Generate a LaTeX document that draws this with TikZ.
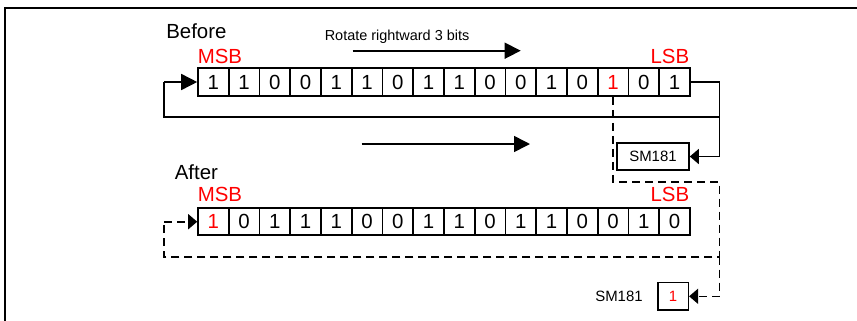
\documentclass[tikz,border=0pt]{standalone}
\usepackage{fontspec}
\setmainfont{Liberation Sans}
\usetikzlibrary{arrows.meta,calc}
\begin{document}
\begin{tikzpicture}[x=1bp,y=-1bp,line width=1.6bp,
  cell/.style={draw,minimum width=30.75bp,minimum height=28bp,inner sep=0pt,font=\fontsize{20.5}{24}\selectfont},
  lbl/.style={inner sep=0pt,font=\fontsize{20.5}{24}\selectfont},
  small text/.style={inner sep=0pt,font=\fontsize{15}{18}\selectfont},
  big/.style={-{Triangle[length=16bp,width=16bp]}},
  smallhead/.style={-{Triangle[length=9bp,width=15bp]}},
  dsh/.style={dash pattern=on 8bp off 5bp}]
\useasboundingbox (0,0) rectangle (857,320);
% frame
\draw[line width=2bp] (5,322) -- (5,7.8) -- (860,7.8);
% top register
\foreach \b [count=\i from 0] in {1,1,0,0,1,1,0,1,1,0,0,1,0,{\textcolor{red}{1}},0,1}
  \node[cell] (t\i) at ({198+30.75*(\i+0.5)},82) {\b};
% bottom register
\foreach \b [count=\i from 0] in {{\textcolor{red}{1}},0,1,1,1,0,0,1,1,0,1,1,0,0,1,0}
  \node[cell,minimum height=27bp] (b\i) at ({198+30.75*(\i+0.5)},221.7) {\b};
% labels
\node[lbl,anchor=base west] (before) at (165.5,38.3) {Before};
\node[lbl,anchor=base west,text=red] (msb1) at (197,63) {MSB};
\node[lbl,anchor=base east,text=red] (lsb1) at (690,63) {LSB};
\node[anchor=base west,inner sep=0pt,font=\fontsize{14.5}{17}\selectfont] (rot) at (324,40) {Rotate rightward 3 bits};
\node[lbl,anchor=base west] (after) at (174,179.3) {After};
\node[lbl,anchor=base west,text=red] (msb2) at (197,201.7) {MSB};
\node[lbl,anchor=base east,text=red] (lsb2) at (690,201.7) {LSB};
% SM181 boxes
\node[draw,small text,minimum width=72bp,minimum height=27bp] (sm1) at (653,156.5) {SM181};
\node[draw,small text,minimum width=30.6bp,minimum height=27.3bp,text=red] (sm2) at (673,296.3) {1};
\node[small text] (sm2l) at (619,296.7) {SM181};
% rotate arrows
\coordinate (r1s) at (352.7,50.7);
\coordinate (r1e) at (520.7,50.7);
\draw[big] (r1s) -- (r1e);
\coordinate (r2s) at (361.7,144);
\coordinate (r2e) at (530,144);
\draw[big] (r2s) -- (r2e);
% solid loop
\coordinate (c1) at (719.3,82);
\coordinate (c2) at (719.3,116.7);
\coordinate (c3) at (164,116.7);
\coordinate (c4) at (164,82);
\draw (t15.east) -- (c1) -- (c2) -- (c3) -- (c4);
\draw[big] (c4) -- (t0.west);
\draw[smallhead] (c2) |- (sm1.east);
% dashed path
\coordinate (d2) at (719.3,181.7);
\coordinate (d3) at (719.3,256.7);
\coordinate (d4) at (164,256.7);
\coordinate (d5) at (164,221.7);
\draw[dsh] (t13.south) |- (d2) -- (d3) -- (d4) -- (d5);
\draw[dsh,smallhead] (d5) -- (b0.west);
\draw[dsh,smallhead] (d3) |- (sm2.east);
\end{tikzpicture}
\end{document}
